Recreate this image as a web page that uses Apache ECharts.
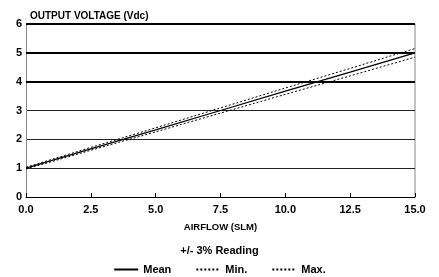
<!DOCTYPE html>
<html><head><meta charset="utf-8">
<script src="https://cdn.jsdelivr.net/npm/echarts@6/dist/echarts.min.js"></script>
<style>html,body{margin:0;padding:0;background:#fff}#c{width:439px;height:277px}</style>
</head><body><div id="c"></div>
<script>
var airflow = [0, 2.5, 5, 7.5, 10, 12.5, 15];
var meanV = [1.0, 1.67, 2.33, 3.0, 3.67, 4.33, 5.0];
var minV = [0.97, 1.62, 2.26, 2.91, 3.56, 4.20, 4.85];
var maxV = [1.03, 1.72, 2.40, 3.09, 3.78, 4.46, 5.15];
var xTicks = ['0.0','2.5','5.0','7.5','10.0','12.5','15.0'];
var heavyLines = [4, 5, 6];

function pairs(v){ return airflow.map(function(x,i){return [x, v[i]];}); }
var font = 'Liberation Sans, Arial, sans-serif';
var chart = echarts.init(document.getElementById('c'), null, {renderer:'canvas'});
chart.setOption({
  animation:false,
  grid:{left:26, right:24, top:24, bottom:80},
  title:[
    {text:'OUTPUT VOLTAGE (Vdc)', left:25, top:6, textStyle:{fontFamily:font, fontSize:10, fontWeight:'bold', color:'#000'}},
    {text:'+/- 3% Reading', left:'center', top:240, textStyle:{fontFamily:font, fontSize:11, fontWeight:'bold', color:'#000'}}
  ],
  legend:{top:259, left:'center', itemWidth:24, itemHeight:8, itemGap:24,
    itemStyle:{opacity:0},
    textStyle:{fontFamily:font, fontSize:11, fontWeight:'bold', color:'#000'},
    data:['Mean','Min.','Max.']},
  xAxis:{type:'value', min:0, max:15, interval:2.5,
    name:'AIRFLOW (SLM)', nameLocation:'middle', nameGap:25,
    nameTextStyle:{fontFamily:font, fontSize:9.5, fontWeight:'bold', color:'#000'},
    axisLine:{lineStyle:{color:'#000', width:1}},
    axisTick:{inside:true, length:4, lineStyle:{color:'#000'}},
    axisLabel:{fontFamily:font, fontSize:11, fontWeight:'bold', color:'#000', margin:7,
      formatter:function(v){ var i = Math.round(v/2.5); return xTicks[i]; }},
    splitLine:{show:false}},
  yAxis:{type:'value', min:0, max:6, interval:1,
    axisLine:{show:true, lineStyle:{color:'#888', width:1}},
    axisTick:{show:false},
    axisLabel:{fontFamily:font, fontSize:11, fontWeight:'bold', color:'#000', margin:4},
    splitLine:{show:true, lineStyle:{color:'#222', width:1}}},
  series:[
    {name:'Mean', type:'line', data:pairs(meanV), symbol:'none', lineStyle:{color:'#000', width:1.2},
     itemStyle:{color:'#000'},
     markLine:{silent:true, symbol:'none', label:{show:false},
       lineStyle:{color:'#000', width:2, type:'solid'},
       data:heavyLines.map(function(y){return {yAxis:y};})}},
    {name:'Min.', type:'line', data:pairs(minV), symbol:'none', lineStyle:{color:'#000', width:1, type:[2,2]}, itemStyle:{color:'#000'}},
    {name:'Max.', type:'line', data:pairs(maxV), symbol:'none', lineStyle:{color:'#000', width:1, type:[2,2]}, itemStyle:{color:'#000'}}
  ],
  graphic:[{type:'line', shape:{x1:415, y1:24, x2:415, y2:197}, style:{stroke:'#888', lineWidth:1}}]
});
</script></body></html>
